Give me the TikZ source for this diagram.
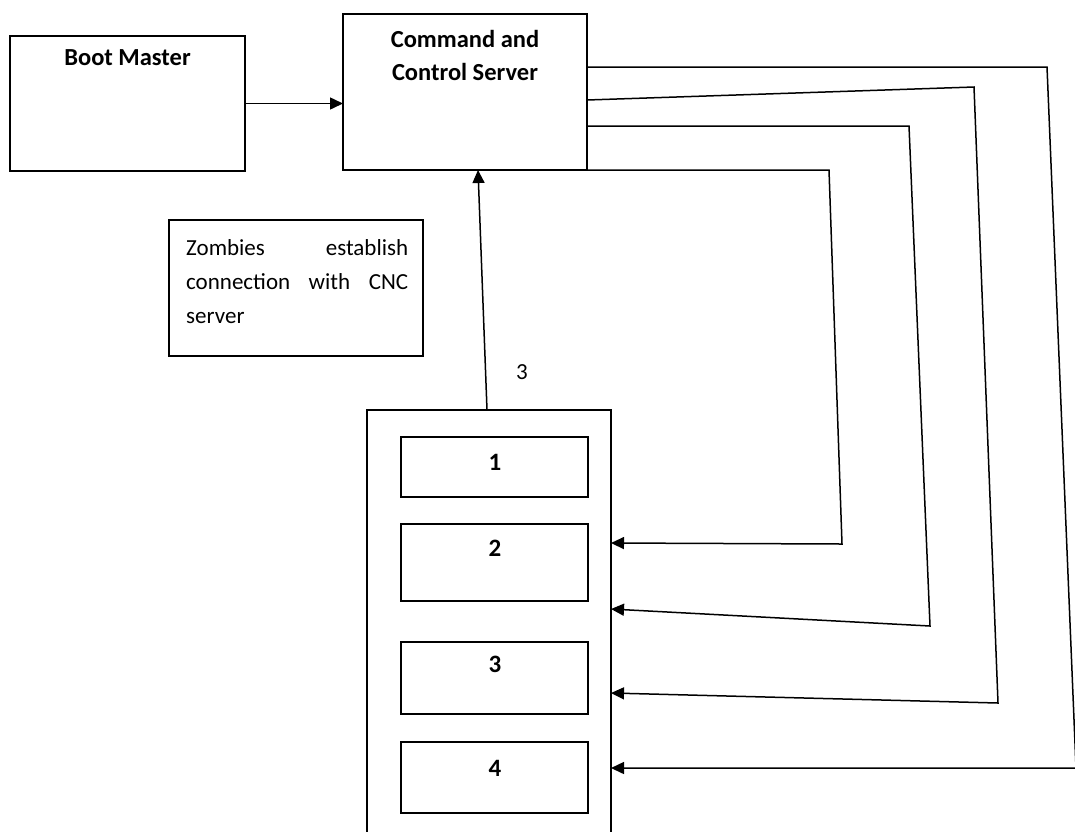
\documentclass[tikz,border=0pt]{standalone}
\usepackage{fontspec}
\setmainfont{Carlito}
\usetikzlibrary{arrows.meta}
\begin{document}
\begin{tikzpicture}[x=1pt,y=-1pt,
  box/.style={draw, line width=1.7pt, inner sep=0pt, outer sep=0pt, anchor=north west},
  conn/.style={line width=1.5pt, -{Triangle[length=13pt,width=12pt]}},
  ttl/.style={font=\bfseries\fontsize{24.5}{33}\selectfont, align=center, inner sep=0pt},
  num/.style={font=\bfseries\fontsize{25}{28}\selectfont, inner sep=0pt, anchor=base},
  body/.style={font=\fontsize{23}{34}\selectfont, inner sep=0pt}
]
\clip (0,0) rectangle (1075,831);
\fill[white] (0,0) rectangle (1075,831);

% boxes
\node[box, minimum width=235pt, minimum height=135pt] (bm) at (10,36) {};
\node[box, minimum width=244pt, minimum height=156pt] (cnc) at (343,14) {};
\node[box, minimum width=254pt, minimum height=136pt] (zb) at (169,220) {};
\node[box, minimum width=244pt, minimum height=440pt] (big) at (367,410) {};
\node[box, minimum width=187pt, minimum height=60pt] (b1) at (401,437) {};
\node[box, minimum width=187pt, minimum height=77pt] (b2) at (401,524) {};
\node[box, minimum width=187pt, minimum height=72pt] (b3) at (401,642) {};
\node[box, minimum width=187pt, minimum height=71pt] (b4) at (401,742) {};

% texts
\node[ttl, anchor=base] (bmt) at (127.5,65) {Boot Master};
\node[ttl, anchor=base] (cnct) at (465,80) {Command and\\Control Server};
\node[body, text width=222pt, align=left, anchor=base west] (zbt) at (186,255)
  {Zombies\hfill establish\\connection\hfill with\hfill CNC\\server};
\node[body, anchor=base] (lab3) at (522,379) {3};
\node[num] (n1) at (495,470) {1};
\node[num] (n2) at (495,556) {2};
\node[num] (n3) at (495,672) {3};
\node[num] (n4) at (495,776) {4};

% connectors
\draw[conn] (bm.east) -- (cnc.west |- bm.east);
\draw[conn] ([xshift=-2pt]big.north) -- ([xshift=13pt]cnc.south);
\draw[conn] (cnc.south east) -- (829,170) -- (842,544) -- ([yshift=87pt]big.east);
\draw[conn] ([yshift=-34pt]cnc.east) -- (909,126) -- (930,626) -- ([yshift=21pt]big.east);
\draw[conn] ([yshift=-8pt]cnc.east) -- (974,87) -- (998,703) -- ([yshift=-63pt]big.east);
\draw[conn] ([yshift=25pt]cnc.east) -- (1047,67) -- (1076,768) -- ([yshift=-138pt]big.east);
\end{tikzpicture}
\end{document}
